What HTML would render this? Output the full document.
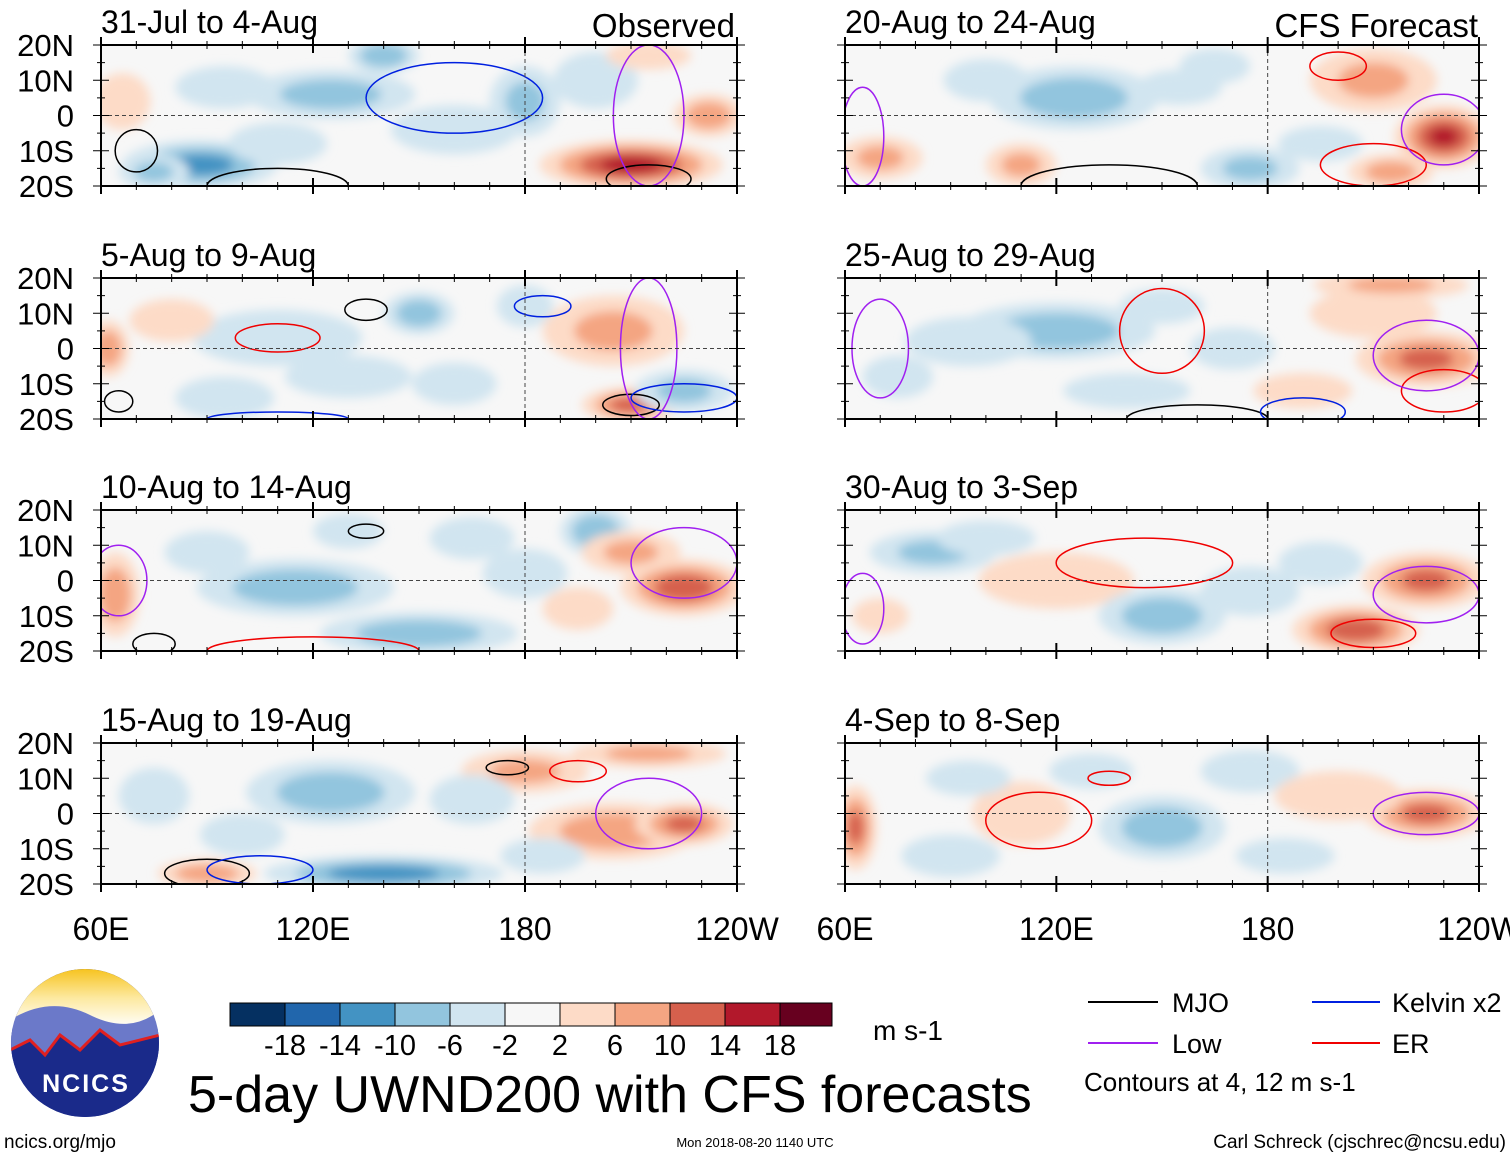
<!DOCTYPE html>
<html><head><meta charset="utf-8">
<style>
body{margin:0;background:#fff;width:1510px;height:1158px;overflow:hidden;font-family:"Liberation Sans",sans-serif}
svg text{font-family:"Liberation Sans",sans-serif}
</style></head>
<body>
<svg id="fig" width="1510" height="1158" style="position:absolute;left:0;top:0" xmlns="http://www.w3.org/2000/svg">
<defs>
<filter id="blur" x="-50%" y="-50%" width="200%" height="200%"><feGaussianBlur stdDeviation="5"/></filter>
<linearGradient id="sky" x1="0" y1="0" x2="0" y2="1"><stop offset="0" stop-color="#f6c21b"/><stop offset="0.5" stop-color="#fde9a0"/><stop offset="1" stop-color="#fff"/></linearGradient>
<clipPath id="logoclip"><circle cx="85" cy="1043" r="74"/></clipPath>
</defs>
<g id="panels"></g>
</svg>
<script>
const titles=["31-Jul to 4-Aug","5-Aug to 9-Aug","10-Aug to 14-Aug","15-Aug to 19-Aug","20-Aug to 24-Aug","25-Aug to 29-Aug","30-Aug to 3-Sep","4-Sep to 8-Sep"];
const levels=[-18,-14,-10,-6,-2,2,6,10,14,18];
const colors=["#053061","#2166ac","#4393c3","#92c5de","#d1e5f0","#f7f7f7","#fddbc7","#f4a582","#d6604d","#b2182b","#67001f"];
const latTicks=["20N","10N","0","10S","20S"];
const lonTicks=["60E","120E","180","120W"];
// blobs: [lon, lat, lonRadius, latRadius, value]
const blobs0=[[88,-14,22,7,-12],[140,17,10,5,-10],[125,6,24,7,-8],[180,4,10,10,-7],[210,-14,26,7,16],[232,0,10,6,9],[66,4,8,8,5],[95,8,14,6,-5],[160,-4,18,7,-4],[75,-16,10,5,-7],[200,10,12,8,-4],[110,-8,14,6,-4],[215,17,12,4,4]];
const blobs1=[[62,0,6,8,9],[110,3,24,8,-6],[150,10,10,6,-9],[205,5,20,10,7],[210,-16,14,5,12],[225,-12,14,6,-7],[180,12,8,6,-5],[95,-14,14,6,-4],[130,-8,18,6,-5],[160,-10,12,6,-4],[80,8,12,6,3]];
const blobs2=[[64,-4,7,12,9],[115,-2,28,8,-9],[130,14,10,5,-6],[150,-15,28,6,-9],[200,14,10,7,-10],[225,-2,18,8,13],[210,8,14,6,7],[90,8,12,6,-4],[180,2,12,7,-4],[165,12,12,6,-3],[195,-8,10,6,3]];
const blobs3=[[125,6,24,9,-9],[140,-17,34,5,-13],[90,-17,14,4,9],[205,-5,24,8,9],[225,-3,14,6,11],[180,12,18,6,7],[215,17,22,4,7],[100,-6,12,6,-4],[165,4,12,7,-4],[75,5,10,8,-3],[185,-12,12,5,-3]];
const blobs4=[[125,5,24,9,-9],[70,-12,12,6,7],[110,-14,10,6,7],[175,-15,14,6,-7],[210,10,18,9,7],[230,-6,14,9,15],[155,8,12,5,-4],[195,-8,12,5,-5],[100,10,12,6,-4],[165,14,10,5,-3],[215,-16,12,5,8]];
const blobs5=[[120,5,28,8,-9],[95,2,18,7,-6],[170,0,12,6,-5],[225,-3,20,8,11],[210,10,18,7,6],[215,18,22,4,7],[140,-12,18,5,-4],[190,-12,14,5,4],[75,-8,10,6,-3],[150,12,12,5,-3]];
const blobs6=[[85,8,18,6,-7],[120,0,22,8,6],[150,-10,18,8,-9],[205,-14,18,7,13],[225,0,18,8,11],[175,-3,14,7,-4],[100,12,14,5,-4],[70,-10,8,5,5],[195,5,12,6,-3]];
const blobs7=[[63,-4,6,12,11],[110,0,14,9,5],[150,-4,18,9,-9],[225,0,18,7,11],[175,12,14,6,-5],[200,5,18,7,5],[95,10,12,5,-4],[130,12,12,5,-4],[90,-12,14,6,-3],[185,-12,14,5,-3]];
const allBlobs=[blobs0,blobs1,blobs2,blobs3,blobs4,blobs5,blobs6,blobs7];
// contours: [lon, lat, lonR, latR, type]
const contours=[[[110,-20,20,5,"mjo"],[215,-18,12,4,"mjo"],[160,5,25,10,"kel"],[70,-10,6,6,"mjo"],[215,0,10,20,"low"]],
[[110,3,12,4,"er"],[135,11,6,3,"mjo"],[210,-16,8,3,"mjo"],[225,-14,15,4,"kel"],[185,12,8,3,"kel"],[110,-20,20,2,"kel"],[65,-15,4,3,"mjo"],[215,0,8,20,"low"]],
[[135,14,5,2,"mjo"],[75,-18,6,3,"mjo"],[120,-20,30,4,"er"],[225,5,15,10,"low"],[65,0,8,10,"low"]],
[[90,-17,12,4,"mjo"],[105,-16,15,4,"kel"],[175,13,6,2,"mjo"],[195,12,8,3,"er"],[215,0,15,10,"low"]],
[[135,-20,25,6,"mjo"],[200,14,8,4,"er"],[210,-14,15,6,"er"],[230,-4,12,10,"low"],[65,-6,6,14,"low"]],
[[150,5,12,12,"er"],[160,-20,20,4,"mjo"],[190,-18,12,4,"kel"],[230,-12,12,6,"er"],[225,-2,15,10,"low"],[70,0,8,14,"low"]],
[[145,5,25,7,"er"],[210,-15,12,4,"er"],[225,-4,15,8,"low"],[65,-8,6,10,"low"]],
[[115,-2,15,8,"er"],[135,10,6,2,"er"],[225,0,15,6,"low"]]];
const ccol={mjo:"#000",low:"#a020f0",kel:"#0020e0",er:"#f00000"};
const NS="http://www.w3.org/2000/svg";
function mk(tag,attrs,parent){const e=document.createElementNS(NS,tag);for(const k in attrs)e.setAttribute(k,attrs[k]);parent.appendChild(e);return e;}
function colorOf(v){let i=0;while(i<levels.length&&v>levels[i])i++;return colors[i];}
const P=document.getElementById('panels');
const rowsY=[45,278,510,743];
for(let p=0;p<8;p++){
  const col=p<4?0:1,row=p%4;
  const x0=col?845:101,x1=col?1479:737,y0=rowsY[row],y1=y0+141;
  const xs=lon=>x0+(lon-60)/180*(x1-x0);
  const ys=lat=>y0+(20-lat)/40*(y1-y0);
  const g=mk('g',{},P);
  
  
  const cp=mk('clipPath',{id:'c'+p},g);
  mk('rect',{x:x0,y:y0,width:x1-x0,height:y1-y0},cp);
  const inner=mk('g',{'clip-path':'url(#c'+p+')'},g);
  mk('rect',{x:x0,y:y0,width:x1-x0,height:y1-y0,fill:'#f7f7f7'},inner);
  const fg=mk('g',{filter:'url(#blur)'},inner);
  allBlobs[p].forEach(b=>{
    const a=Math.abs(b[4]),s=Math.sign(b[4]);
    [2,6,10,14,18].forEach(thr=>{
      if(thr>=a)return;
      const f=1-(thr-2)/(a+2);
      const e=mk('ellipse',{cx:xs(b[0]),cy:ys(b[1]),rx:b[2]*3.53*f,ry:b[3]*3.53*f,fill:colorOf(s*(thr+1))},fg);
      
      
    });
  });
  contours[p].forEach(c=>{
    const e=mk('ellipse',{cx:xs(c[0]),cy:ys(c[1]),rx:c[2]*3.53,ry:c[3]*3.53,fill:'none',stroke:ccol[c[4]],'stroke-width':1.5},inner);
    
    
  });
  mk('line',{x1:x0,x2:x1,y1:ys(0),y2:ys(0),stroke:'#444','stroke-dasharray':'4,3','stroke-width':1},inner);
  mk('line',{x1:xs(180),x2:xs(180),y1:y0,y2:y1,stroke:'#444','stroke-dasharray':'4,3','stroke-width':1},inner);
  mk('rect',{x:x0,y:y0,width:x1-x0,height:y1-y0,fill:'none',stroke:'#000','stroke-width':2},g);
  for(let lon=60;lon<=240;lon+=10){const L=lon%60==0?8:4;
    mk('line',{x1:xs(lon),x2:xs(lon),y1:y0-L,y2:y0+L,stroke:'#000','stroke-width':lon%60==0?2:1},g);
    mk('line',{x1:xs(lon),x2:xs(lon),y1:y1-L,y2:y1+L,stroke:'#000','stroke-width':lon%60==0?2:1},g);}
  for(let lat=-20;lat<=20;lat+=5){const L=lat%10==0?8:4;
    mk('line',{x1:x0-L,x2:x0+L,y1:ys(lat),y2:ys(lat),stroke:'#000'},g);
    mk('line',{x1:x1-L,x2:x1+L,y1:ys(lat),y2:ys(lat),stroke:'#000'},g);}
  const t=mk('text',{x:x0,y:y0-12,'font-size':32},g);t.textContent=titles[p];
  
  if(col==0){latTicks.forEach((s,i)=>{const tt=mk('text',{x:74,y:ys(20-i*10)+11,'font-size':31,'text-anchor':'end'},g);tt.textContent=s;
    });}
  if(row==3){lonTicks.forEach((s,i)=>{const tt=mk('text',{x:xs(60+i*60),y:940,'font-size':32,'text-anchor':'middle'},g);tt.textContent=s;
    });}
}
</script>
<svg width="1510" height="1158" style="position:absolute;left:0;top:0" xmlns="http://www.w3.org/2000/svg">
<text x="735" y="37" font-size="33" text-anchor="end">Observed</text>
<text x="1478" y="37" font-size="33" text-anchor="end">CFS Forecast</text>
<g>
<rect x="230" y="1003" width="55" height="23" fill="#053061" stroke="#000"/><rect x="285" y="1003" width="55" height="23" fill="#2166ac" stroke="#000"/><rect x="340" y="1003" width="55" height="23" fill="#4393c3" stroke="#000"/><rect x="395" y="1003" width="55" height="23" fill="#92c5de" stroke="#000"/><rect x="450" y="1003" width="55" height="23" fill="#d1e5f0" stroke="#000"/><rect x="505" y="1003" width="55" height="23" fill="#f7f7f7" stroke="#000"/><rect x="560" y="1003" width="55" height="23" fill="#fddbc7" stroke="#000"/><rect x="615" y="1003" width="55" height="23" fill="#f4a582" stroke="#000"/><rect x="670" y="1003" width="55" height="23" fill="#d6604d" stroke="#000"/><rect x="725" y="1003" width="55" height="23" fill="#b2182b" stroke="#000"/><rect x="780" y="1003" width="52" height="23" fill="#67001f" stroke="#000"/>
<g font-size="29" text-anchor="middle"><text x="285" y="1055">-18</text><text x="340" y="1055">-14</text><text x="395" y="1055">-10</text><text x="450" y="1055">-6</text><text x="505" y="1055">-2</text><text x="560" y="1055">2</text><text x="615" y="1055">6</text><text x="670" y="1055">10</text><text x="725" y="1055">14</text><text x="780" y="1055">18</text></g>
</g>
<text x="873" y="1040" font-size="28">m s-1</text>
<text x="188" y="1112" font-size="52">5-day UWND200 with CFS forecasts</text>
<g>
<line x1="1088" x2="1158" y1="1002" y2="1002" stroke="#000" stroke-width="2"/><text x="1172" y="1012" font-size="27">MJO</text>
<line x1="1088" x2="1158" y1="1043" y2="1043" stroke="#a020f0" stroke-width="2"/><text x="1172" y="1053" font-size="27">Low</text>
<line x1="1312" x2="1380" y1="1002" y2="1002" stroke="#0020e0" stroke-width="2"/><text x="1392" y="1012" font-size="27">Kelvin x2</text>
<line x1="1312" x2="1380" y1="1043" y2="1043" stroke="#f00000" stroke-width="2"/><text x="1392" y="1053" font-size="27">ER</text>
<text x="1084" y="1091" font-size="26">Contours at 4, 12 m s-1</text>
</g>
<g>
<g clip-path="url(#logoclip)">
<rect x="10" y="968" width="150" height="150" fill="#1a2a8a"/>
<rect x="10" y="968" width="150" height="60" fill="url(#sky)"/>
<path d="M10,1020 Q50,995 90,1015 T160,1010 L160,1060 L10,1060 Z" fill="#6b79c9"/>
<path d="M10,1050 L30,1040 L45,1055 L60,1035 L80,1050 L100,1030 L120,1045 L160,1035 L160,1120 L10,1120 Z" fill="#1a2a8a"/>
<path d="M10,1050 L30,1040 L45,1055 L60,1035 L80,1050 L100,1030 L120,1045 L160,1035" stroke="#e02020" stroke-width="3" fill="none"/>
</g>
<text x="86" y="1092" font-size="25" font-weight="bold" fill="#fff" text-anchor="middle" letter-spacing="2">NCICS</text>
</g>
<text x="4" y="1148" font-size="19">ncics.org/mjo</text>
<text x="755" y="1147" font-size="13" text-anchor="middle">Mon 2018-08-20 1140 UTC</text>
<text x="1506" y="1148" font-size="19" text-anchor="end">Carl Schreck (cjschrec@ncsu.edu)</text>
</svg>
</body></html>
